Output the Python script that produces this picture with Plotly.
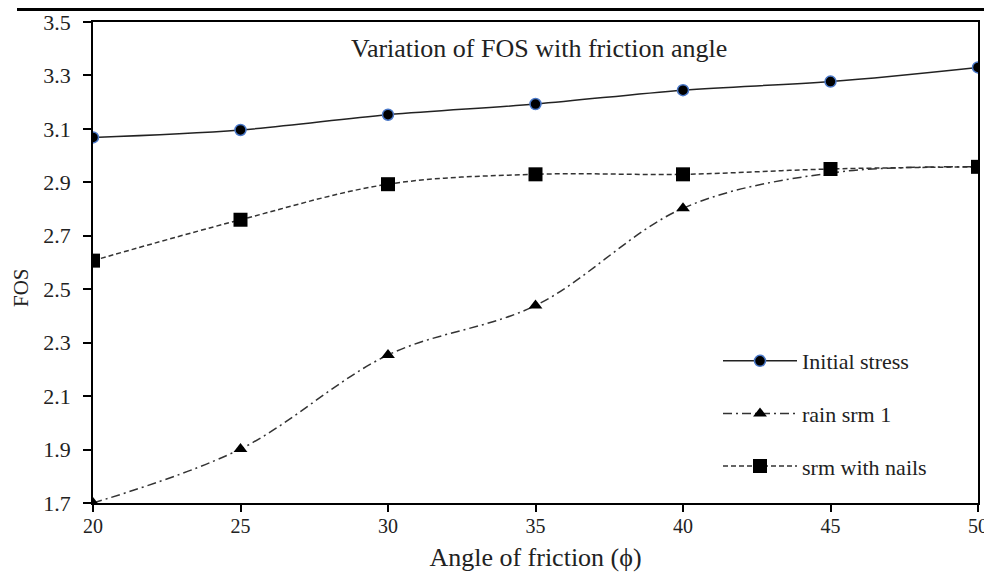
import plotly.graph_objects as go

angle = [20, 25, 30, 35, 40, 45, 50]
initial_stress = [3.068, 3.096, 3.153, 3.193, 3.245, 3.277, 3.330]
rain_srm_1 = [1.700, 1.902, 2.254, 2.439, 2.803, 2.935, 2.958]
srm_with_nails = [2.607, 2.760, 2.893, 2.930, 2.930, 2.950, 2.958]

y_ticks = [1.7, 1.9, 2.1, 2.3, 2.5, 2.7, 2.9, 3.1, 3.3, 3.5]
x_ticks = [20, 25, 30, 35, 40, 45, 50]

FONT = "Liberation Serif"
TXT = "#222222"

fig = go.Figure()
fig.add_trace(go.Scatter(
    x=angle, y=initial_stress, name="Initial stress", legendgroup="a",
    mode="lines+markers", line=dict(color="#222222", width=1.5, shape="spline"),
    marker=dict(symbol="circle", size=11, color="black", line=dict(color="#4a78c8", width=1.5)),
))
fig.add_trace(go.Scatter(
    x=angle, y=rain_srm_1, name="rain srm 1", legendgroup="b",
    mode="lines+markers", line=dict(color="#333333", width=1.5, dash="9px,4px,2px,4px", shape="spline"),
    marker=dict(symbol="triangle-up", size=12, color="black"),
))
fig.add_trace(go.Scatter(
    x=angle, y=srm_with_nails, name="srm with nails", legendgroup="c",
    mode="lines+markers", line=dict(color="#333333", width=1.5, dash="5px,3px", shape="spline"),
    marker=dict(symbol="square", size=14, color="black"),
))

# page body has an 8px margin; layout below is expressed in screen pixels
OFF = 8
W, H = 984, 567
L, R, T, B = 93 - OFF, 14, 22 - OFF, 72
pw, ph = W - L - R, H - T - B

def sx(px):
    return (px - OFF - L) / pw

def sy(py):
    return (H - B - (py - OFF)) / ph

shapes = [dict(type="line", xref="paper", yref="paper",
               x0=sx(17), x1=sx(1000), y0=sy(9.5), y1=sy(9.5),
               line=dict(color="black", width=3))]

fig.update_layout(
    width=W, height=H,
    margin=dict(l=L, r=R, t=T, b=B, pad=0, autoexpand=False),
    paper_bgcolor="white", plot_bgcolor="white",
    font=dict(family=FONT, size=20, color=TXT),
    showlegend=True,
    legend=dict(x=sx(718), y=sy(340), xanchor="left", yanchor="top",
                bgcolor="rgba(0,0,0,0)", font=dict(family=FONT, size=22, color=TXT),
                tracegroupgap=21, itemwidth=74),
    shapes=shapes,
    annotations=[dict(text="Variation of FOS with friction angle", x=sx(539), xanchor="center",
                      y=sy(48), yanchor="middle", xref="paper", yref="paper", showarrow=False,
                      font=dict(family=FONT, size=26, color=TXT)),
                 dict(text="FOS", x=sx(21), y=sy(288), xref="paper", yref="paper",
                      xanchor="center", yanchor="middle",
                      showarrow=False, textangle=-90,
                      font=dict(family=FONT, size=21, color=TXT))],
    xaxis=dict(range=[20, 50], tickvals=x_ticks, ticks="outside", ticklen=7, tickwidth=1.5,
               tickcolor="black", showline=True, linecolor="black", linewidth=1.5, mirror=True,
               showgrid=False, zeroline=False, automargin=False, ticklabelstandoff=-3,
               title=dict(text="Angle of friction (ϕ)", font=dict(family=FONT, size=26, color=TXT), standoff=12),
               tickfont=dict(family=FONT, size=20, color=TXT)),
    yaxis=dict(range=[1.7, 3.5], tickvals=y_ticks, ticktext=[f"{v:.1f}" for v in y_ticks],
               ticks="outside", ticklen=8, tickwidth=1.5,
               tickcolor="black", showline=True, linecolor="black", linewidth=1.5, mirror=True,
               showgrid=False, zeroline=False, ticklabelstandoff=8, automargin=False,
               tickfont=dict(family=FONT, size=22, color=TXT)),
)

fig.write_html("out.html")
